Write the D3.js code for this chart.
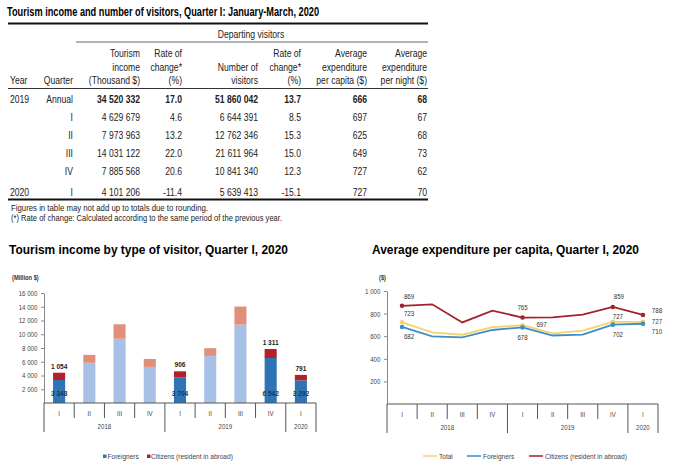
<!DOCTYPE html>
<html>
<head>
<meta charset="utf-8">
<title>Tourism income, Quarter I 2020</title>
<script src="https://cdn.jsdelivr.net/npm/d3@7"></script>
<style>
  body { margin: 0; background: #fff; }
  svg { display: block; font-family: "Liberation Sans", Arial, sans-serif; }
</style>
</head>
<body>
<svg id="chart" width="680" height="471"></svg>
<script>
// ---- table data
var tableYears = ["2019", "", "", "", "", "2020"];
var tableQuarters = ["Annual", "I", "II", "III", "IV", "I"];
var tableIncome = [34520332, 4629679, 7973963, 14031122, 7885568, 4101206];
var tableIncomeRate = [17.0, 4.6, 13.2, 22.0, 20.6, -11.4];
var tableVisitors = [51860042, 6644391, 12762346, 21611964, 10841340, 5639413];
var tableVisitorsRate = [13.7, 8.5, 15.3, 15.0, 12.3, -15.1];
var tablePerCapita = [666, 697, 625, 649, 727, 727];
var tablePerNight = [68, 67, 68, 73, 62, 70];

// ---- chart categories (2018 Q1 .. 2020 Q1)
var quarters = ["I", "II", "III", "IV", "I", "II", "III", "IV", "I"];
var yearGroups = [
  { label: "2018", from: 0, to: 4 },
  { label: "2019", from: 4, to: 8 },
  { label: "2020", from: 8, to: 9 }
];
var highlighted = [0, 4, 7, 8];

// tourism income by type of visitor (million $)
var incomeForeigners = [3348, 5850, 9350, 5250, 3704, 6850, 11400, 6542, 3292];
var incomeCitizens = [1054, 1150, 2100, 1150, 906, 1124, 2630, 1311, 791];
var incomeTicks = [2000, 4000, 6000, 8000, 10000, 12000, 14000, 16000];

// average expenditure per capita ($)
var avgTotal = [723, 634, 613, 680, 697, 625, 649, 727, 727];
var avgForeigners = [682, 599, 590, 655, 678, 606, 614, 702, 710];
var avgCitizens = [869, 882, 722, 826, 765, 767, 790, 859, 788];
var avgTicks = [200, 400, 600, 800, 1000];

var SX = 0.82; // the picture's lettering is horizontally narrow
var svg = d3.select("#chart");
var fmtSp = function (v) { return d3.format(",")(v).replace(/,/g, " "); };
var fmt1 = function (v) { return d3.format(".1f")(v).replace("\u2212", "-"); };

function txt(g, x, y, s, o) {
  o = o || {};
  var t = g.append("text")
    .attr("text-anchor", o.anchor || "start")
    .style("font-size", (o.size || 10.5) + "px")
    .style("font-weight", o.bold ? "bold" : "normal")
    .attr("fill", o.color || "#222")
    .text(s);
  if (o.len) {
    t.attr("x", x).attr("y", y).attr("textLength", o.len).attr("lengthAdjust", "spacingAndGlyphs");
  } else {
    t.attr("transform", "translate(" + x + "," + y + ") scale(" + SX + ",1)");
  }
  return t;
}
function hline(g, x1, x2, y, w, c) {
  g.append("line").attr("x1", x1).attr("x2", x2).attr("y1", y).attr("y2", y)
    .attr("stroke", c || "#111").attr("stroke-width", w || 1);
}

// ================= TABLE =================
var tb = svg.append("g");
txt(tb, 7, 16, "Tourism income and number of visitors, Quarter I: January-March, 2020", { size: 12, bold: true, color: "#000", len: 312 });
hline(tb, 8, 428, 23.5, 2, "#111");
txt(tb, 251, 38, "Departing visitors", { anchor: "middle" });
hline(tb, 76, 428, 42, 1, "#666");

var colX = [10, 73, 140, 182, 258, 301, 367, 427];
var headRows = [
  ["", "", "Tourism", "Rate of", "", "Rate of", "Average", "Average"],
  ["", "", "income", "change*", "Number of", "change*", "expenditure", "expenditure"],
  ["Year", "Quarter", "(Thousand $)", "(%)", "visitors", "(%)", "per capita ($)", "per night ($)"]
];
var headY = [57, 70.5, 84];
headRows.forEach(function (row, r) {
  row.forEach(function (s, c) {
    if (s) txt(tb, colX[c], headY[r], s, { anchor: c === 0 ? "start" : "end" });
  });
});
hline(tb, 8, 428, 88.5, 1.2, "#333");

var rowY = [103, 121, 139, 157, 175, 196];
tableYears.forEach(function (yr, i) {
  var cells = [yr, tableQuarters[i], fmtSp(tableIncome[i]), fmt1(tableIncomeRate[i]),
    fmtSp(tableVisitors[i]), fmt1(tableVisitorsRate[i]), tablePerCapita[i], tablePerNight[i]];
  cells.forEach(function (s, c) {
    txt(tb, colX[c], rowY[i], s, { anchor: c === 0 ? "start" : "end", bold: i === 0 && c > 1 });
  });
});
hline(tb, 8, 428, 199.5, 2, "#111");
txt(tb, 11, 211, "Figures in table may not add up to totals due to rounding.", { size: 9, len: 197 });
txt(tb, 11, 221, "(*) Rate of change: Calculated according to the same period of the previous year.", { size: 9, len: 271 });

// ================= shared category axis =================
function categoryAxis(g, x, y0) {
  var left = x.range()[0], right = x.range()[1];
  hline(g, left, right, y0, 1, "#555");
  d3.range(quarters.length + 1).forEach(function (i) {
    var px = i < quarters.length ? x(i) : right;
    var isYear = yearGroups.some(function (yg) { return yg.from === i || yg.to === i; });
    g.append("line").attr("x1", px).attr("x2", px).attr("y1", y0).attr("y2", y0 + (isYear ? 29 : 15))
      .attr("stroke", "#555").attr("stroke-width", 1);
  });
  quarters.forEach(function (q, i) {
    txt(g, x(i) + x.bandwidth() / 2, y0 + 13, q, { anchor: "middle", size: 7.5, color: "#444" });
  });
  yearGroups.forEach(function (yg) {
    var cx = (x(yg.from) + (yg.to < quarters.length ? x(yg.to) : right)) / 2;
    txt(g, cx, y0 + 26, yg.label, { anchor: "middle", size: 7.5, color: "#444" });
  });
}
function styleAxis(sel) {
  sel.attr("font-family", null).attr("font-size", null);
  sel.select(".domain").attr("stroke", "#888");
  sel.selectAll(".tick line").attr("stroke", "#888");
  sel.selectAll(".tick text").attr("fill", "#444").style("font-size", "7.5px")
    .attr("transform", "scale(" + SX + ",1)");
}

// ================= BAR CHART =================
var bc = svg.append("g");
txt(bc, 9, 254, "Tourism income by type of visitor, Quarter I, 2020", { size: 13.5, bold: true, color: "#000", len: 279 });
txt(bc, 12, 280, "(Million $)", { size: 7, bold: true, color: "#333" });

var bx = d3.scaleBand().domain(d3.range(quarters.length)).range([44, 316]);
var by = d3.scaleLinear().domain([0, 16000]).range([403, 293]);

bc.append("g").attr("transform", "translate(44,0)")
  .call(d3.axisLeft(by).tickValues(incomeTicks).tickSize(3).tickSizeOuter(0).tickPadding(5).tickFormat(fmtSp))
  .call(styleAxis);

var barRows = quarters.map(function (q, i) {
  return { i: i, foreigners: incomeForeigners[i], citizens: incomeCitizens[i] };
});
var stack = d3.stack().keys(["foreigners", "citizens"])(barRows);
var barColors = {
  foreigners: ["#a7c1e6", "#2e75b6"],
  citizens: ["#e0907a", "#b3202a"]
};
var bw = bx.bandwidth() * 0.4;
stack.forEach(function (layer) {
  bc.append("g").selectAll("rect").data(layer).enter().append("rect")
    .attr("x", function (d) { return bx(d.data.i) + (bx.bandwidth() - bw) / 2; })
    .attr("width", bw)
    .attr("y", function (d) { return by(d[1]); })
    .attr("height", function (d) { return by(d[0]) - by(d[1]); })
    .attr("fill", function (d) {
      return barColors[layer.key][highlighted.indexOf(d.data.i) >= 0 ? 1 : 0];
    });
});
highlighted.forEach(function (i) {
  var cx = bx(i) + bx.bandwidth() / 2;
  txt(bc, cx, by(incomeForeigners[i] + incomeCitizens[i]) - 4, fmtSp(incomeCitizens[i]), { anchor: "middle", size: 8, bold: true, color: "#222" });
  txt(bc, cx, by(0) - 7, fmtSp(incomeForeigners[i]), { anchor: "middle", size: 8, bold: true, color: "#1c3557" });
});
categoryAxis(bc, bx, 403);

// legend
bc.append("rect").attr("x", 103).attr("y", 454.5).attr("width", 3.5).attr("height", 3.5).attr("fill", "#2e75b6");
txt(bc, 107.5, 459, "Foreigners", { size: 8, color: "#444" });
bc.append("rect").attr("x", 147).attr("y", 454.5).attr("width", 3.5).attr("height", 3.5).attr("fill", "#b3202a");
txt(bc, 151, 459, "Citizens (resident in abroad)", { size: 8, color: "#444" });

// ================= LINE CHART =================
var lc = svg.append("g");
txt(lc, 372, 254, "Average expenditure per capita, Quarter I, 2020", { size: 13.5, bold: true, color: "#000", len: 267 });
txt(lc, 379, 280, "($)", { size: 7, bold: true, color: "#333" });

var lx = d3.scaleBand().domain(d3.range(quarters.length)).range([387, 658]);
var ly = d3.scaleLinear().domain([0, 1000]).range([404, 291]);

lc.append("g").attr("transform", "translate(387,0)")
  .call(d3.axisLeft(ly).tickValues(avgTicks).tickSize(3).tickSizeOuter(0).tickPadding(5).tickFormat(fmtSp))
  .call(styleAxis);

var series = [
  { name: "Total", values: avgTotal, color: "#f2d46c" },
  { name: "Foreigners", values: avgForeigners, color: "#3d8dc8" },
  { name: "Citizens (resident in abroad)", values: avgCitizens, color: "#a3232c" }
];
var line = d3.line()
  .x(function (d, i) { return lx(i) + lx.bandwidth() / 2; })
  .y(function (d) { return ly(d); });
series.forEach(function (s) {
  lc.append("path").attr("d", line(s.values)).attr("fill", "none")
    .attr("stroke", s.color).attr("stroke-width", 1.8);
});
series.forEach(function (s) {
  lc.append("g").selectAll("circle").data(highlighted).enter().append("circle")
    .attr("cx", function (i) { return lx(i) + lx.bandwidth() / 2; })
    .attr("cy", function (i) { return ly(s.values[i]); })
    .attr("r", 2.3).attr("fill", s.color);
});

// data label placement: [series index, category index, dx, dy]
var labelPlacement = [
  [2, 0, 7, -7], [0, 0, 7, -6], [1, 0, 7, 12],
  [2, 4, 0, -8], [0, 4, 19, 2], [1, 4, 0, 13],
  [2, 7, 6, -8], [0, 7, 5, -3], [1, 7, 5, 12],
  [2, 8, 14, -2], [0, 8, 14, 2], [1, 8, 14, 10]
];
labelPlacement.forEach(function (p) {
  var v = series[p[0]].values[p[1]];
  txt(lc, lx(p[1]) + lx.bandwidth() / 2 + p[2], ly(v) + p[3], v, { anchor: "middle", size: 7.5, color: "#333" });
});
categoryAxis(lc, lx, 404);

// legend
var legX = [423, 467, 529];
series.forEach(function (s, k) {
  hline(lc, legX[k], legX[k] + 14, 456, 1.5, s.color);
  txt(lc, legX[k] + 16, 459, s.name, { size: 8, color: "#444" });
});
</script>
</body>
</html>
